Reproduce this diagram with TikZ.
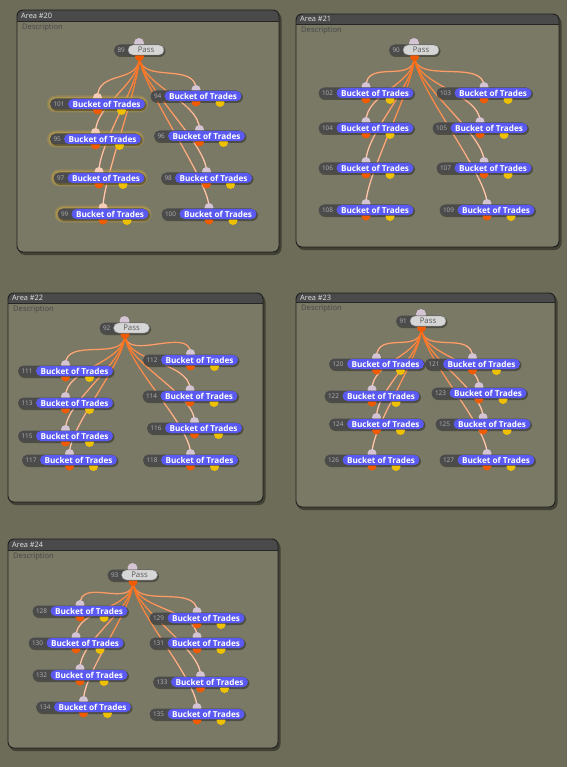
\documentclass[tikz,border=0pt]{standalone}
\usepackage{fontspec}
\setmainfont{Open Sans}
\usetikzlibrary{fadings}
\definecolor{bgout}{HTML}{6D6C59}
\definecolor{panel}{HTML}{7A7966}
\definecolor{hdr}{HTML}{4A4A4A}
\definecolor{pillbg}{HTML}{4B4B4B}
\definecolor{bluep}{HTML}{5A5AF2}
\definecolor{passp}{HTML}{D6D6D6}
\definecolor{orgp}{HTML}{F05A00}
\definecolor{yelp}{HTML}{EEC000}
\definecolor{lavp}{HTML}{D4C4D4}
\definecolor{peachp}{HTML}{F4CDB4}
\definecolor{wireA}{HTML}{FF6A10}
\definecolor{wireB}{HTML}{F0D6CE}
\definecolor{glowc}{HTML}{C8A440}
\pgfdeclarelayer{bg}
\pgfdeclarelayer{wires}
\pgfsetlayers{bg,wires,main}
\tikzset{
  panelbox/.style={draw=black!88, line width=0.9pt, rounded corners=6pt},
  portc/.style={circle, inner sep=0pt, minimum size=9pt, draw=none},
  darkpill/.style={rectangle, rounded corners=5.5pt, minimum height=11pt, inner sep=0pt, fill=pillbg},
  bluepill/.style={rectangle, rounded corners=5pt, minimum height=10pt, minimum width=77pt, inner sep=0pt, fill=bluep, text=white, font=\fontsize{8.2}{9}\selectfont\bfseries},
  passpill/.style={rectangle, rounded corners=5pt, minimum height=10pt, minimum width=36pt, inner sep=0pt, fill=passp, draw=black!45, line width=0.4pt, text=black!65, font=\fontsize{7.8}{9}\selectfont},
  numtxt/.style={inner sep=0pt, text=black!30, font=\fontsize{6.4}{7}\selectfont},
  hdrtxt/.style={inner sep=0pt, anchor=west, text=white!90!black, font=\fontsize{7.4}{8}\selectfont},
  desctxt/.style={inner sep=0pt, anchor=west, text=black!72, font=\fontsize{7.6}{8}\selectfont},
  wirebase/.style={line width=1.2pt, draw=wireA},
  wiretop/.style={line width=1.2pt, draw=wireB, path fading=north},
}
\newcommand\mkpanel[6]{%
  \begin{pgfonlayer}{bg}
  \fill[black, opacity=.4, rounded corners=7pt] (#2+1,#3+2) rectangle (#4+2.5,#5+3);
  \begin{scope}
   \clip[rounded corners=6pt] (#2,#3) rectangle (#4,#5);
   \fill[panel] (#2,#3) rectangle (#4,#5);
   \fill[hdr] (#2,#3) rectangle (#4,#6);
   \draw[black!85, line width=.8pt] (#2,#6) -- (#4,#6);
  \end{scope}
  \draw[panelbox] (#2,#3) rectangle (#4,#5);
  \node[hdrtxt] (h#1) at (#2+4,{(#3+#6)/2}) {Area \##1};
  \node[desctxt] (d#1) at (#2+5,#6+6.5) {Description};
  \end{pgfonlayer}
}
\newcommand\glowbox[3]{%
  \fill[glowc, opacity=.3, rounded corners=8.5pt] (#1-#3/2-3,#2-8.5) rectangle (#1+#3/2+3,#2+8.5);
  \fill[glowc, opacity=.5, rounded corners=7pt] (#1-#3/2-1.5,#2-7) rectangle (#1+#3/2+1.5,#2+7);
}
\newcommand\bucket[5]{%
  \fill[black, opacity=.35, rounded corners=6pt] (#2-#4/2+0.5,#3-4.5) rectangle (#2+#4/2+1.5,#3+7);
  \node[portc, fill=#5] (in#1) at (#2,#3-6.5) {};
  \node[portc, fill=orgp] (out#1) at (#2,#3+6) {};
  \node[portc, fill=yelp] (y#1) at (#2+24,#3+6.5) {};
  \node[darkpill, minimum width=#4pt] (n#1) at (#2,#3) {};
  \node[bluepill, anchor=east] (b#1) at (n#1.east) {Bucket of Trades};
  \node[numtxt, anchor=west] (k#1) at ([xshift=3.5pt]n#1.west) {#1};
}
\newcommand\passnode[3]{%
  \fill[black, opacity=.35, rounded corners=6pt] (#2-24.5,#3-4.5) rectangle (#2+26.5,#3+7);
  \node[portc, fill=lavp, minimum size=10pt] (in#1) at (#2,#3-7) {};
  \node[portc, fill=orgp] (out#1) at (#2+0.5,#3+6.5) {};
  \node[darkpill, minimum width=50pt] (n#1) at (#2,#3) {};
  \node[passpill, anchor=east] (b#1) at (n#1.east) {Pass};
  \node[numtxt, anchor=west] (k#1) at ([xshift=3.5pt]n#1.west) {#1};
}
\newcommand\wire[2]{%
  \begin{pgfonlayer}{wires}
  \draw[wirebase] (out#1.center) .. controls +(0,28) and +(0,-28) .. (in#2.center);
  \draw[wiretop] (out#1.center) .. controls +(0,28) and +(0,-28) .. (in#2.center);
  \end{pgfonlayer}
}
\begin{document}
\begin{tikzpicture}[x=1pt,y=-1pt]
\begin{pgfonlayer}{bg}
\fill[bgout] (0,0) rectangle (567,767);
\end{pgfonlayer}
\useasboundingbox (0,0) rectangle (567,767);

% Area 20
\mkpanel{20}{17}{10}{279}{252}{21}
\passnode{89}{139}{50}
\glowbox{97.5}{104}{95}
\glowbox{95.5}{139}{91}
\glowbox{99}{178}{91}
\glowbox{103}{214}{91}
\bucket{101}{97.5}{104}{95}{peachp}
\bucket{95}{95.5}{139}{91}{peachp}
\bucket{97}{99}{178}{91}{peachp}
\bucket{99}{103}{214}{91}{peachp}
\bucket{94}{196}{96}{91}{lavp}
\bucket{96}{199.5}{136}{91}{lavp}
\bucket{98}{206.5}{178}{91}{lavp}
\bucket{100}{209}{214}{95}{lavp}
\wire{89}{101}\wire{89}{95}\wire{89}{97}\wire{89}{99}
\wire{89}{94}\wire{89}{96}\wire{89}{98}\wire{89}{100}

% Area 21
\mkpanel{21}{296}{14}{559}{247}{24}
\passnode{90}{414}{50}
\bucket{102}{366}{93}{95}{lavp}
\bucket{104}{366}{128}{95}{lavp}
\bucket{106}{366}{168}{95}{lavp}
\bucket{108}{366}{210}{95}{lavp}
\bucket{103}{484}{93}{95}{lavp}
\bucket{105}{480}{128}{95}{lavp}
\bucket{107}{484}{168}{95}{lavp}
\bucket{109}{487}{210}{95}{lavp}
\wire{90}{102}\wire{90}{104}\wire{90}{106}\wire{90}{108}
\wire{90}{103}\wire{90}{105}\wire{90}{107}\wire{90}{109}

% Area 22
\mkpanel{22}{8}{293}{263}{502}{303}
\passnode{92}{124.5}{328}
\bucket{111}{65.5}{371}{95}{lavp}
\bucket{113}{65.5}{403}{95}{lavp}
\bucket{115}{65.5}{436}{95}{lavp}
\bucket{117}{69.5}{460}{95}{lavp}
\bucket{112}{190.5}{360}{95}{lavp}
\bucket{114}{190}{396}{95}{lavp}
\bucket{116}{194.5}{428}{95}{lavp}
\bucket{118}{190.5}{460}{95}{lavp}
\wire{92}{111}\wire{92}{113}\wire{92}{115}\wire{92}{117}
\wire{92}{112}\wire{92}{114}\wire{92}{116}\wire{92}{118}

% Area 23
\mkpanel{23}{296}{293}{555}{507}{302}
\passnode{91}{421}{321}
\bucket{120}{376.5}{364}{95}{lavp}
\bucket{122}{372}{396}{95}{lavp}
\bucket{124}{376.5}{424}{95}{lavp}
\bucket{126}{372}{460}{95}{lavp}
\bucket{121}{472.5}{364}{95}{lavp}
\bucket{123}{479}{393}{95}{lavp}
\bucket{125}{483}{424}{95}{lavp}
\bucket{127}{487}{460}{95}{lavp}
\wire{91}{120}\wire{91}{122}\wire{91}{124}\wire{91}{126}
\wire{91}{121}\wire{91}{123}\wire{91}{125}\wire{91}{127}

% Area 24
\mkpanel{24}{8}{539}{278}{748}{550}
\passnode{93}{132.5}{575}
\bucket{128}{80}{611}{95}{lavp}
\bucket{130}{76}{643}{95}{lavp}
\bucket{132}{80}{675}{95}{lavp}
\bucket{134}{83.5}{707}{95}{lavp}
\bucket{129}{197}{618}{95}{lavp}
\bucket{131}{197}{643}{95}{lavp}
\bucket{133}{200.5}{682}{95}{lavp}
\bucket{135}{197}{714}{95}{lavp}
\wire{93}{128}\wire{93}{130}\wire{93}{132}\wire{93}{134}
\wire{93}{129}\wire{93}{131}\wire{93}{133}\wire{93}{135}
\end{tikzpicture}
\end{document}
